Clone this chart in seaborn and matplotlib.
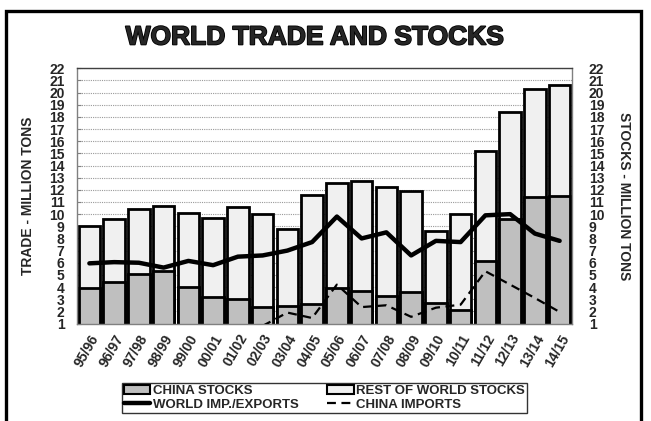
import numpy as np
import pandas as pd
import seaborn as sns
import matplotlib.pyplot as plt
import matplotlib.patheffects as pe
from matplotlib.patches import Patch, Rectangle
from matplotlib.lines import Line2D

# marketing years
years = ["95/96", "96/97", "97/98", "98/99", "99/00", "00/01", "01/02", "02/03",
         "03/04", "04/05", "05/06", "06/07", "07/08", "08/09", "09/10", "10/11",
         "11/12", "12/13", "13/14", "14/15"]

# stocks, million tons
china_stocks = [3.9, 4.45, 5.1, 5.3, 4.0, 3.2, 3.05, 2.35, 2.45, 2.6,
                3.95, 3.7, 3.3, 3.6, 2.7, 2.1, 6.15, 9.6, 11.4, 11.5]
rest_stocks = [5.1, 5.15, 5.3, 5.4, 6.1, 6.5, 7.5, 7.65, 6.35, 9.0,
               8.65, 9.05, 8.95, 8.3, 5.9, 7.95, 9.05, 8.8, 8.9, 9.1]

# trade, million tons
world_trade = [5.95, 6.05, 6.0, 5.6, 6.15, 5.8, 6.5, 6.6, 7.0, 7.7,
               9.8, 8.0, 8.5, 6.6, 7.8, 7.7, 9.9, 10.0, 8.4, 7.8]
china_imports = [np.nan, np.nan, np.nan, np.nan, np.nan, np.nan, np.nan, 0.8,
                 1.9, 1.45, 4.2, 2.35, 2.5, 1.55, 2.3, 2.55, 5.3, 4.2, 3.1, 1.95]

df = pd.DataFrame({
    "year": years,
    "pos": np.arange(len(years)),
    "china": china_stocks,
    "total": np.array(china_stocks) + np.array(rest_stocks),
    "trade": world_trade,
    "imports": china_imports,
})

sns.set_style("white")
plt.rcParams['font.family'] = ['Liberation Sans', 'DejaVu Sans']
plt.rcParams['font.weight'] = 'bold'

GRAY = "#bfbfbf"
LIGHT = "#f0f0f0"

fig = plt.figure(figsize=(6.51, 4.21), dpi=100)
ax = fig.add_axes([77/651, 1 - 323.5/421, (572-77)/651, (323.5-68.3)/421])

sns.barplot(data=df, x="pos", y="total", color=LIGHT, saturation=1,
            edgecolor="black", linewidth=2.0, width=0.86, ax=ax, zorder=2)
sns.barplot(data=df, x="pos", y="china", color=GRAY, saturation=1,
            edgecolor="black", linewidth=2.0, width=0.86, ax=ax, zorder=2)
sns.lineplot(data=df, x="pos", y="trade", color="black", lw=3.2, ax=ax,
             zorder=4, solid_joinstyle="round", solid_capstyle="round")
sns.lineplot(data=df.dropna(), x="pos", y="imports", color="black", lw=1.6,
             ax=ax, zorder=4, linestyle=(0, (4, 2.5)))

ax.set_xlim(-0.5, len(years) - 0.5)
ax.set_ylim(1, 22)
ax.set_yticks(range(1, 23))
ax.set_yticklabels([str(v) for v in range(1, 23)], fontsize=10, fontweight="bold")
ax.set_xticks(df["pos"])
ax.set_xticklabels(years, rotation=60, ha="right", rotation_mode="anchor",
                   fontsize=10, fontweight="bold")
ax.set_xticks(np.arange(len(years) + 1) - 0.5, minor=True)
ax.tick_params(axis="x", which="major", length=0, pad=6)
ax.tick_params(axis="x", which="minor", length=4, color="#808080", direction="out")
ax.tick_params(axis="y", length=3, color="#808080", direction="in", pad=9)
ax.set_xlabel("")
ax.set_ylabel("TRADE - MILLION TONS", fontsize=10, fontweight="bold", labelpad=10)
ax.yaxis.grid(True, color="#9a9a9a", linestyle=(0, (1, 1)), lw=0.8)
ax.set_axisbelow(True)
for s in ax.spines.values():
    s.set_color("#808080")
    s.set_linewidth(1)
ax.spines["top"].set_color("#404040")

ax2 = ax.twinx()
ax2.set_ylim(1, 22)
ax2.set_yticks(range(1, 23))
ax2.set_yticklabels([str(v) for v in range(1, 23)], fontsize=10, fontweight="bold")
ax2.tick_params(axis="y", length=0, pad=12)
ax2.set_ylabel("STOCKS - MILLION TONS", fontsize=10, fontweight="bold",
               rotation=-90, labelpad=19)
for s in ax2.spines.values():
    s.set_visible(False)

fig.text(314.5/651, 1 - 37.5/421, "WORLD TRADE AND STOCKS", ha="center",
         va="center", fontsize=19, fontweight="heavy",
         path_effects=[pe.withStroke(linewidth=1.2, foreground="black")])

handles = [
    Patch(facecolor=GRAY, edgecolor="black", linewidth=1.5, label="CHINA STOCKS"),
    Line2D([], [], color="black", lw=3.2, label="WORLD IMP./EXPORTS"),
    Patch(facecolor=LIGHT, edgecolor="black", linewidth=1.5, label="REST OF WORLD STOCKS"),
    Line2D([], [], color="black", lw=1.6, linestyle=(0, (4, 2.5)), label="CHINA IMPORTS"),
]
leg = fig.legend(handles=handles, ncol=2, mode="expand",
                 bbox_to_anchor=(122/651, 8/421, 405/651, 30/421), loc="lower left",
                 prop={"size": 9.5, "weight": "bold"}, frameon=True, fancybox=False,
                 edgecolor="black", handlelength=2.0, handletextpad=0.2,
                 borderpad=0.15, labelspacing=0.1, borderaxespad=0)
leg.get_frame().set_linewidth(1.0)

# outer frame of the figure
fig.add_artist(Rectangle((5.5/651, -0.05), 635/651, 1.05 - 10.5/421,
                         transform=fig.transFigure, fill=False,
                         edgecolor="black", lw=2.4))

fig.savefig("out.png", dpi=100)
